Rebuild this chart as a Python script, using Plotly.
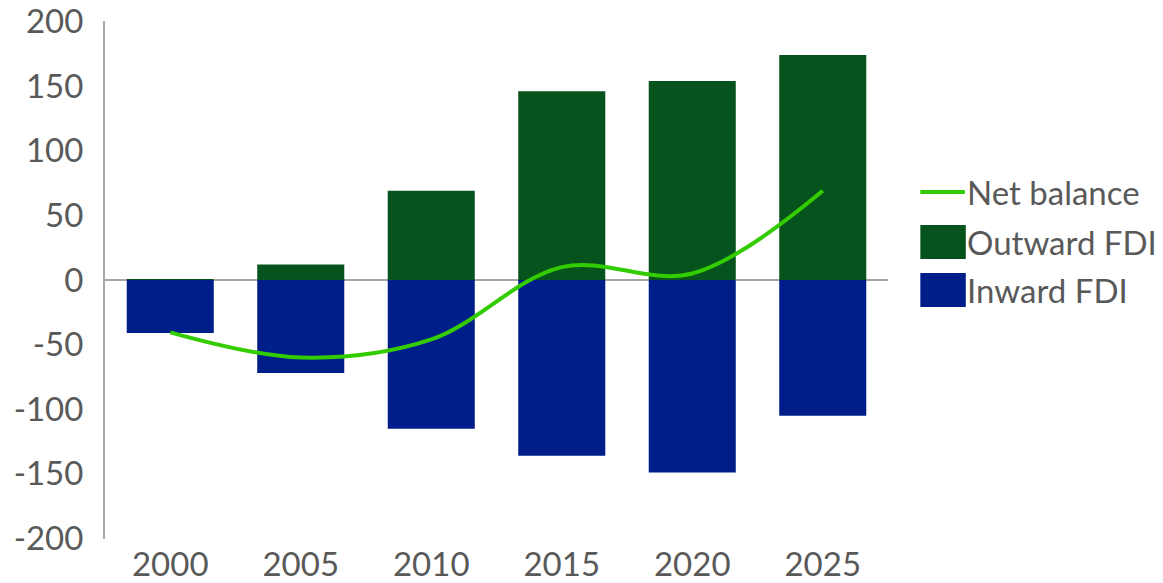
import plotly.graph_objects as go

years = ["2000", "2005", "2010", "2015", "2020", "2025"]
outward_fdi = [0.5, 12, 69, 146, 154, 174]
inward_fdi = [-41, -72, -115, -136, -149, -105]
net_balance = [-40.5, -60, -46, 10, 5, 69]
y_ticks = [200, 150, 100, 50, 0, -50, -100, -150, -200]
y_tick_labels = ["200", "150", "100", "50", "0", "-50", "-100", "-150", "-200"]
series_names = ["Net balance", "Outward FDI", "Inward FDI"]
series_colors = ["#33CC00", "#07531E", "#001E89"]

font_family = "Lato, 'Open Sans', sans-serif"
text_color = "#595959"
axis_gray = "#A6A6A6"
fsize = 33

# page body adds an 8px offset; compensate so the plot lands where the reference is
OFF = 8
FIG_W = 1163 - OFF
FIG_H = 583 - OFF

fig = go.Figure()
fig.add_trace(go.Scatter(
    x=years, y=net_balance, name=series_names[0], mode="lines",
    line=dict(color=series_colors[0], width=4, shape="spline", smoothing=1),
))
fig.add_trace(go.Bar(
    x=years, y=outward_fdi, name=series_names[1],
    marker=dict(color=series_colors[1], line=dict(width=0)),
))
fig.add_trace(go.Bar(
    x=years, y=inward_fdi, name=series_names[2],
    marker=dict(color=series_colors[2], line=dict(width=0)),
))

# custom legend (large swatches like the reference)
L = 105.0
W = 775.0
B = 539.0
H = 518.0


def px_x(px):
    return (px - L) / W


def px_y(py):
    return (B - py) / H


shapes = []
annotations = []
rows = [192, 242, 290]
shapes.append(dict(type="line", xref="paper", yref="paper",
                   x0=px_x(912), x1=px_x(956), y0=px_y(192), y1=px_y(192),
                   line=dict(color=series_colors[0], width=4)))
shapes.append(dict(type="rect", xref="paper", yref="paper",
                   x0=px_x(912), x1=px_x(957), y0=px_y(259), y1=px_y(225),
                   fillcolor=series_colors[1], line=dict(width=0)))
shapes.append(dict(type="rect", xref="paper", yref="paper",
                   x0=px_x(912), x1=px_x(957), y0=px_y(307), y1=px_y(273),
                   fillcolor=series_colors[2], line=dict(width=0)))
for name, ry in zip(series_names, rows):
    annotations.append(dict(xref="paper", yref="paper", x=px_x(956), y=px_y(ry),
                            xanchor="left", yanchor="middle", showarrow=False,
                            text=name, font=dict(size=33, color=text_color,
                                                 family=font_family)))

fig.update_layout(
    width=FIG_W, height=FIG_H,
    margin=dict(l=105 - OFF, r=283 - OFF, t=21 - OFF, b=44, autoexpand=False),
    barmode="relative", bargap=0.333,
    plot_bgcolor="white", paper_bgcolor="white",
    font=dict(family=font_family, size=fsize, color=text_color),
    showlegend=False,
    shapes=shapes, annotations=annotations,
    xaxis=dict(showline=False, ticks="", showgrid=False, zeroline=False,
               automargin=False, ticklabelstandoff=3),
    yaxis=dict(range=[-200.4, 200.4], tickvals=y_ticks, ticktext=y_tick_labels,
               showgrid=False, automargin=False, ticklabeloverflow="allow",
               showline=True, linecolor=axis_gray, linewidth=2,
               zeroline=True, zerolinecolor=axis_gray, zerolinewidth=2,
               ticks="", ticklabelstandoff=13),
)

fig.write_html("out.html")
